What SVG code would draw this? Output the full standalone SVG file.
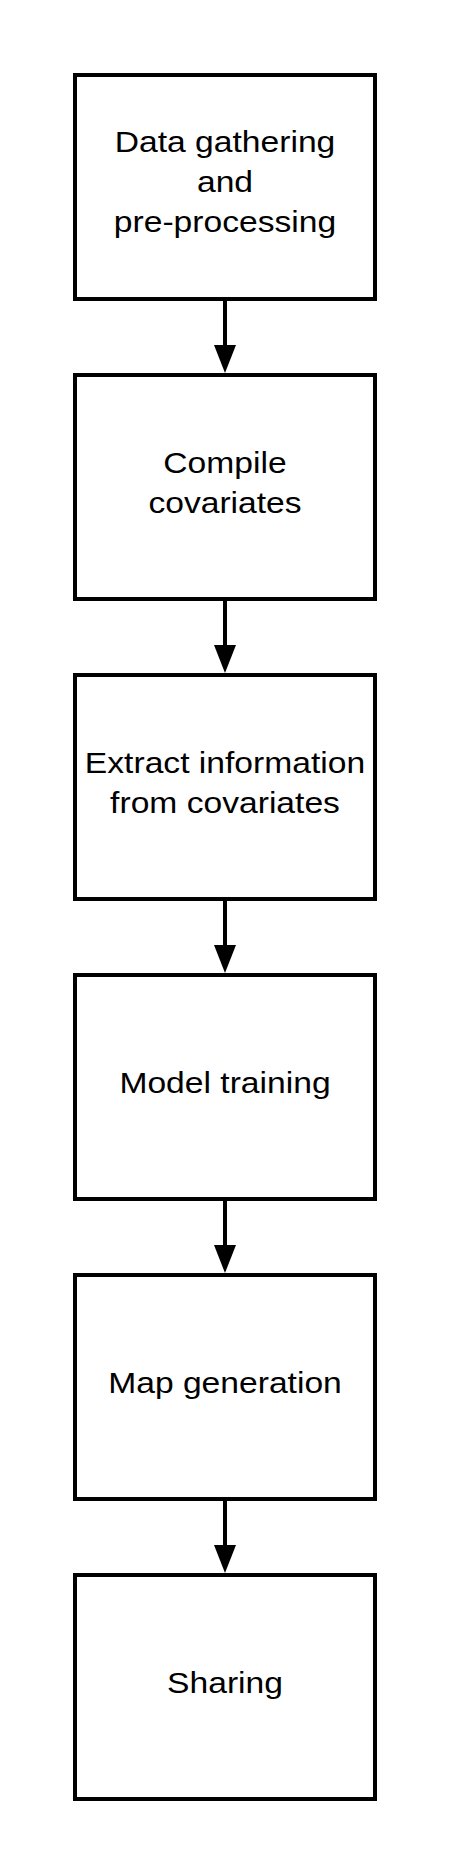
<svg xmlns="http://www.w3.org/2000/svg" width="450" height="1875" viewBox="0 0 450 1875">
<style>
.box{fill:#fff;stroke:#000;stroke-width:4}
.lbl{font-family:"Liberation Sans",Arial,sans-serif;font-size:29.5px;fill:#000;text-anchor:middle}
.conn{stroke:#000;stroke-width:4;fill:none}
</style>
<defs>
<marker id="ah" markerUnits="userSpaceOnUse" markerWidth="28" markerHeight="22" refX="5" refY="11" orient="auto">
<path d="M0,0 L28,11 L0,22 Z" fill="#000"/>
</marker>
</defs>
<rect width="450" height="1875" fill="#fff"/>
<g id="connectors">
<path class="conn" d="M225,299 V350" marker-end="url(#ah)"/>
<path class="conn" d="M225,599 V650" marker-end="url(#ah)"/>
<path class="conn" d="M225,899 V950" marker-end="url(#ah)"/>
<path class="conn" d="M225,1199 V1250" marker-end="url(#ah)"/>
<path class="conn" d="M225,1499 V1550" marker-end="url(#ah)"/>
</g>
<g id="node1">
<rect class="box" x="75" y="75" width="300" height="224"/>
<g transform="translate(225,0) scale(1.14,1)">
<text class="lbl" x="0" y="152">Data gathering</text>
<text class="lbl" x="0" y="192">and</text>
<text class="lbl" x="0" y="232">pre-processing</text>
</g>
</g>
<g id="node2">
<rect class="box" x="75" y="375" width="300" height="224"/>
<g transform="translate(225,0) scale(1.14,1)">
<text class="lbl" x="0" y="473">Compile</text>
<text class="lbl" x="0" y="513">covariates</text>
</g>
</g>
<g id="node3">
<rect class="box" x="75" y="675" width="300" height="224"/>
<g transform="translate(225,0) scale(1.14,1)">
<text class="lbl" x="0" y="773">Extract information</text>
<text class="lbl" x="0" y="813">from covariates</text>
</g>
</g>
<g id="node4">
<rect class="box" x="75" y="975" width="300" height="224"/>
<g transform="translate(225,0) scale(1.14,1)">
<text class="lbl" x="0" y="1093">Model training</text>
</g>
</g>
<g id="node5">
<rect class="box" x="75" y="1275" width="300" height="224"/>
<g transform="translate(225,0) scale(1.14,1)">
<text class="lbl" x="0" y="1393">Map generation</text>
</g>
</g>
<g id="node6">
<rect class="box" x="75" y="1575" width="300" height="224"/>
<g transform="translate(225,0) scale(1.14,1)">
<text class="lbl" x="0" y="1693">Sharing</text>
</g>
</g>
</svg>
